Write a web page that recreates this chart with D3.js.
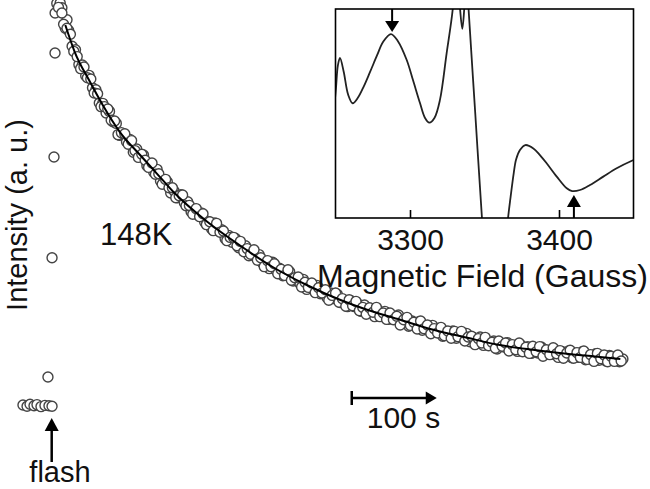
<!DOCTYPE html>
<html>
<head>
<meta charset="utf-8">
<script src="https://cdn.jsdelivr.net/npm/d3@7"></script>
<style>
  html, body { margin: 0; padding: 0; background: #fff; }
  svg { display: block; }
  text { font-family: "Liberation Sans", Arial, sans-serif; fill: #111; }
</style>
</head>
<body>
<div id="chart"></div>
<script>
const WIDTH = 650;
const HEIGHT = 489;

// decay kinetics: [time (s), intensity (a.u.)]
const baselinePoints = [
  [-31.8, 0.5], [-27, 0.2], [-23.5, 0.7], [-18.8, 0.3], [-15.3, 0.6],
  [-10.6, 0.1], [-5.9, 0.4], [-1.2, 0.3], [2.4, 0.2]
];
const risePoints = [[-2.4, 7.5], [2.4, 37.3], [4.7, 62.5], [5.9, 88.5]];
const peakPoints = [[6, 98.5], [8, 100.9], [12, 101.0], [14, 99.8], [20, 96.8]];
const decayPoints = [
  [10, 99.9], [14, 98.5], [18, 94.7], [22, 94.1], [26, 90.2], [30, 89.3], [34, 85.6], [38, 85.5],
  [42, 82.8], [46, 82.9], [50, 79.8], [54, 79.3], [58, 76.0], [62, 75.9], [66, 73.5], [70, 73.9],
  [74, 71.3], [78, 70.9], [82, 67.9], [86, 68.1], [90, 66.3], [94, 66.9], [98, 63.7], [102, 64.5],
  [106, 62.9], [110, 63.0], [114, 60.3], [118, 60.8], [122, 58.7], [126, 59.4], [130, 56.5], [134, 56.6],
  [138, 56.3], [142, 53.5], [146, 54.0], [150, 52.3], [154, 53.1], [158, 51.1], [162, 51.3], [166, 48.8],
  [170, 49.6], [174, 48.0], [178, 48.5], [182, 46.2], [186, 46.4], [190, 44.6], [194, 46.0], [198, 44.1],
  [202, 44.3], [206, 42.1], [210, 42.9], [214, 41.2], [218, 42.2], [222, 39.8], [226, 40.2], [230, 40.3],
  [234, 37.8], [238, 38.9], [242, 37.5], [246, 38.1], [250, 36.0], [254, 36.5], [258, 34.6], [262, 36.2],
  [266, 34.2], [270, 34.7], [274, 32.8], [278, 33.5], [282, 33.8], [286, 31.5], [290, 32.1], [294, 30.9],
  [298, 31.9], [302, 29.4], [306, 30.5], [310, 29.5], [314, 30.4], [318, 28.3], [322, 29.1], [326, 27.3],
  [330, 28.5], [334, 27.1], [338, 28.2], [342, 26.1], [346, 26.7], [350, 25.1], [354, 26.6], [358, 25.1],
  [362, 25.8], [366, 23.9], [370, 25.5], [374, 24.0], [378, 24.5], [382, 22.6], [386, 24.2], [390, 22.7],
  [394, 23.9], [398, 21.9], [402, 22.7], [406, 21.9], [410, 23.0], [414, 21.0], [418, 21.8], [422, 20.2],
  [426, 21.5], [430, 20.4], [434, 21.3], [438, 19.2], [442, 20.1], [446, 19.0], [450, 20.4], [454, 18.8],
  [458, 19.7], [462, 17.7], [466, 18.9], [470, 17.9], [474, 19.0], [478, 17.2], [482, 18.3], [486, 17.4],
  [490, 18.4], [494, 16.3], [498, 17.4], [502, 16.2], [506, 17.5], [510, 15.4], [514, 16.4], [518, 15.6],
  [522, 16.5], [526, 14.5], [530, 16.0], [534, 15.0], [538, 16.1], [542, 14.4], [546, 15.3], [550, 13.9],
  [554, 15.5], [558, 14.2], [562, 15.1], [566, 13.4], [570, 14.7], [574, 13.5], [578, 15.0], [582, 13.1],
  [586, 14.0], [590, 13.2], [594, 14.4], [598, 12.4], [602, 13.9], [606, 13.1], [610, 14.0], [614, 12.3],
  [618, 13.5], [622, 12.4], [626, 13.8], [630, 11.8], [634, 13.1], [638, 12.2], [642, 13.3], [646, 11.7],
  [650, 12.6], [654, 11.5], [658, 12.9], [662, 11.8], [666, 12.4], [670, 11.3], [674, 12.0]
];
const decayPointsB = [
  [16, 95.7], [20, 94.7], [24, 93.2], [28, 88.9], [32, 87.6], [36, 84.6], [40, 85.0], [44, 82.3],
  [48, 82.0], [52, 78.5], [56, 78.3], [60, 75.1], [64, 75.1], [68, 74.5], [72, 71.7], [76, 71.5],
  [80, 68.1], [84, 68.6], [88, 68.3], [92, 65.7], [96, 66.6], [100, 64.1], [104, 62.4], [108, 63.2],
  [112, 61.7], [116, 59.9], [120, 61.0], [124, 58.2], [128, 58.3], [132, 55.7], [136, 56.9], [140, 54.8],
  [144, 54.8], [148, 52.3], [152, 52.8], [156, 53.0], [160, 50.3], [164, 50.4], [168, 48.2], [172, 49.6],
  [176, 47.6], [180, 48.3], [184, 45.6], [188, 46.3], [192, 44.1], [196, 45.9], [200, 43.7], [204, 44.0],
  [208, 41.6], [212, 42.4], [216, 42.4], [220, 40.3], [224, 41.4], [228, 38.8], [232, 39.6], [236, 38.2],
  [240, 39.3], [244, 36.7], [248, 37.3], [252, 35.1], [256, 36.6], [260, 35.1], [264, 35.8], [268, 33.3],
  [272, 34.4], [276, 32.9], [280, 34.3], [284, 31.7], [288, 32.3], [292, 32.5], [296, 30.0], [300, 31.2],
  [304, 29.9], [308, 31.0], [312, 28.6], [316, 29.8], [320, 28.5], [324, 29.3], [328, 26.7], [332, 27.9],
  [336, 28.5], [340, 26.2], [344, 27.1], [348, 25.2], [352, 26.8], [356, 25.3], [360, 26.4], [364, 24.1],
  [368, 24.9], [372, 23.2], [376, 24.8], [380, 23.7], [384, 24.9], [388, 22.6], [392, 23.5], [396, 21.9],
  [400, 23.5], [404, 21.8], [408, 22.7], [412, 20.5], [416, 21.8], [420, 22.4], [424, 20.4], [428, 21.2],
  [432, 19.5], [436, 21.5], [440, 19.6], [444, 20.5], [448, 18.3], [452, 19.6], [456, 18.5], [460, 19.9],
  [464, 17.8], [468, 19.0], [472, 17.2], [476, 18.9], [480, 17.6], [484, 18.9], [488, 16.5], [492, 17.5],
  [496, 17.7], [500, 15.6], [504, 17.1], [508, 16.0], [512, 17.4], [516, 15.3], [520, 16.2], [524, 14.7],
  [528, 16.5], [532, 15.2], [536, 16.0], [540, 14.0], [544, 15.6], [548, 14.3], [552, 16.0], [556, 13.8],
  [560, 14.9], [564, 13.4], [568, 15.2], [572, 13.8], [576, 15.1], [580, 12.7], [584, 14.3], [588, 13.1],
  [592, 14.8], [596, 13.3], [600, 14.1], [604, 12.2], [608, 13.5], [612, 14.2], [616, 12.2], [620, 13.6],
  [624, 12.4], [628, 14.0], [632, 11.9], [636, 13.1], [640, 11.4], [644, 13.4], [648, 12.1], [652, 13.0],
  [656, 11.3], [660, 12.7], [664, 11.4], [668, 13.0], [672, 11.5]
];
const fitLine = [
  [18, 95.5], [29, 88.8], [47, 81.3], [62, 75.5], [82, 68.8], [106, 63], [126, 58.3], [145, 53.8],
  [185, 46.3], [224, 40.3], [262, 35], [302, 30.5], [341, 26.8], [373, 24.3], [412, 21.8], [451, 19.3],
  [491, 17.3], [529, 15.5], [568, 14.3], [608, 13.3], [647, 12.5], [671, 12]
];

// EPR spectrum (inset): [field (G), signal (normalised)]
const eprSpectrum = [
  [3249, 0.52], [3250.3, 0.62], [3251.6, 0.73], [3253, 0.766], [3255.5, 0.70], [3258.5, 0.59],
  [3261.5, 0.549], [3265, 0.575], [3269, 0.63], [3273.2, 0.699], [3278, 0.78], [3281.9, 0.842],
  [3287.2, 0.880], [3292, 0.845], [3297.8, 0.756], [3302, 0.66], [3306.7, 0.550], [3310, 0.48],
  [3313, 0.456], [3316.5, 0.48], [3320.1, 0.565], [3324.6, 0.789], [3328.7, 1.0], [3331.2, 1.25],
  [3333.6, 1.0], [3335.1, 0.905], [3336.4, 1.0], [3337.8, 1.2], [3339.3, 1.0], [3343.8, 0.5],
  [3348.3, 0.0], [3352, -0.35], [3357, -0.5], [3362, -0.3], [3365.8, 0.0], [3367.5, 0.1],
  [3369.6, 0.214], [3371.2, 0.28], [3373.8, 0.325], [3377.4, 0.349], [3382.8, 0.333], [3387.2, 0.301],
  [3391.7, 0.262], [3398.5, 0.198], [3405.2, 0.142], [3408.8, 0.129], [3414.1, 0.134], [3420.8, 0.158],
  [3429.7, 0.198], [3438.7, 0.238], [3448.9, 0.274], [3451, 0.28]
];
const eprTicks = [3300, 3400];
const eprMarks = [{ field: 3288, dir: 'down' }, { field: 3410, dir: 'up' }];

const flashTime = 2;
const scaleBarStart = 355;   // s
const scaleBarLength = 100;  // s
const scaleBarLevel = 2.25;  // intensity units

const svg = d3.select('#chart')
  .append('svg')
  .attr('width', WIDTH)
  .attr('height', HEIGHT);

const x = d3.scaleLinear().domain([0, 100]).range([50, 135]);
const y = d3.scaleLinear().domain([0, 100]).range([407, 7]);

// data circles
const allPoints = baselinePoints.concat(risePoints, peakPoints, decayPoints, decayPointsB);
svg.append('g')
  .selectAll('circle')
  .data(allPoints)
  .join('circle')
  .attr('cx', d => x(d[0]))
  .attr('cy', d => y(d[1]))
  .attr('r', 5)
  .attr('fill', '#fff')
  .attr('stroke', '#444')
  .attr('stroke-width', 1.4);

svg.append('path')
  .datum(fitLine)
  .attr('d', d3.line().x(d => x(d[0])).y(d => y(d[1])).curve(d3.curveMonotoneX))
  .attr('fill', 'none')
  .attr('stroke', '#000')
  .attr('stroke-width', 2);

// labels
svg.append('text')
  .attr('transform', 'translate(27,215) rotate(-90)')
  .attr('text-anchor', 'middle')
  .attr('font-size', 29)
  .text('Intensity (a. u.)');

svg.append('text')
  .attr('x', 100)
  .attr('y', 245)
  .attr('font-size', 31)
  .text('148K');

// flash arrow
const fx = x(flashTime);
svg.append('line')
  .attr('x1', fx).attr('x2', fx)
  .attr('y1', 462).attr('y2', 428)
  .attr('stroke', '#000').attr('stroke-width', 2.5);
svg.append('path')
  .attr('d', `M${fx},418 L${fx - 7},431 L${fx + 7},431 Z`)
  .attr('fill', '#000');
svg.append('text')
  .attr('x', 60)
  .attr('y', 482)
  .attr('text-anchor', 'middle')
  .attr('font-size', 29)
  .text('flash');

// 100 s scale bar
const sbY = y(scaleBarLevel);
const sb0 = x(scaleBarStart);
const sb1 = x(scaleBarStart + scaleBarLength);
svg.append('line')
  .attr('x1', sb0).attr('x2', sb1 - 8)
  .attr('y1', sbY).attr('y2', sbY)
  .attr('stroke', '#000').attr('stroke-width', 2.5);
svg.append('line')
  .attr('x1', sb0).attr('x2', sb0)
  .attr('y1', sbY - 7).attr('y2', sbY + 7)
  .attr('stroke', '#000').attr('stroke-width', 2.5);
svg.append('path')
  .attr('d', `M${sb1},${sbY} L${sb1 - 11},${sbY - 6.5} L${sb1 - 11},${sbY + 6.5} Z`)
  .attr('fill', '#000');
svg.append('text')
  .attr('x', sb0 + 15)
  .attr('y', 428)
  .attr('font-size', 30)
  .text('100 s');

// inset EPR spectrum
const ix = d3.scaleLinear().domain([3250, 3450]).range([335.5, 633.5]);
const iy = d3.scaleLinear().domain([0, 1]).range([218, 9]);

const inset = svg.append('g').attr('class', 'inset');

inset.append('clipPath')
  .attr('id', 'inset-clip')
  .append('rect')
  .attr('x', ix(3250)).attr('y', iy(1))
  .attr('width', ix(3450) - ix(3250))
  .attr('height', iy(0) - iy(1));

inset.append('path')
  .datum(eprSpectrum)
  .attr('clip-path', 'url(#inset-clip)')
  .attr('d', d3.line().x(d => ix(d[0])).y(d => iy(d[1])).curve(d3.curveCatmullRom.alpha(0.5)))
  .attr('fill', 'none')
  .attr('stroke', '#222')
  .attr('stroke-width', 1.8);

inset.append('rect')
  .attr('x', ix(3250)).attr('y', iy(1))
  .attr('width', ix(3450) - ix(3250))
  .attr('height', iy(0) - iy(1))
  .attr('fill', 'none')
  .attr('stroke', '#000')
  .attr('stroke-width', 1.6);

const insetAxis = inset.append('g')
  .attr('transform', `translate(0,${iy(0)})`)
  .call(d3.axisBottom(ix).tickValues(eprTicks).tickSizeInner(-8).tickSizeOuter(0).tickPadding(10.5).tickFormat(d3.format('d')));
insetAxis.select('.domain').remove();
insetAxis.selectAll('line').attr('stroke', '#000').attr('stroke-width', 1.6);
insetAxis.attr('font-size', 30).attr('font-family', '"Liberation Sans", Arial, sans-serif');
insetAxis.selectAll('text').attr('fill', '#111');

inset.append('text')
  .attr('x', 482.5)
  .attr('y', 287)
  .attr('text-anchor', 'middle')
  .attr('font-size', 32)
  .text('Magnetic Field (Gauss)');

eprMarks.forEach(m => {
  const mx = ix(m.field);
  if (m.dir === 'down') {
    const y0 = iy(1);
    inset.append('line')
      .attr('x1', mx).attr('x2', mx).attr('y1', y0).attr('y2', y0 + 13)
      .attr('stroke', '#000').attr('stroke-width', 2);
    inset.append('path')
      .attr('d', `M${mx},${y0 + 23} L${mx - 7},${y0 + 12} L${mx + 7},${y0 + 12} Z`)
      .attr('fill', '#000');
  } else {
    const y0 = iy(0);
    inset.append('line')
      .attr('x1', mx).attr('x2', mx).attr('y1', y0).attr('y2', y0 - 13)
      .attr('stroke', '#000').attr('stroke-width', 2);
    inset.append('path')
      .attr('d', `M${mx},${y0 - 23} L${mx - 7},${y0 - 11} L${mx + 7},${y0 - 11} Z`)
      .attr('fill', '#000');
  }
});
</script>
</body>
</html>
